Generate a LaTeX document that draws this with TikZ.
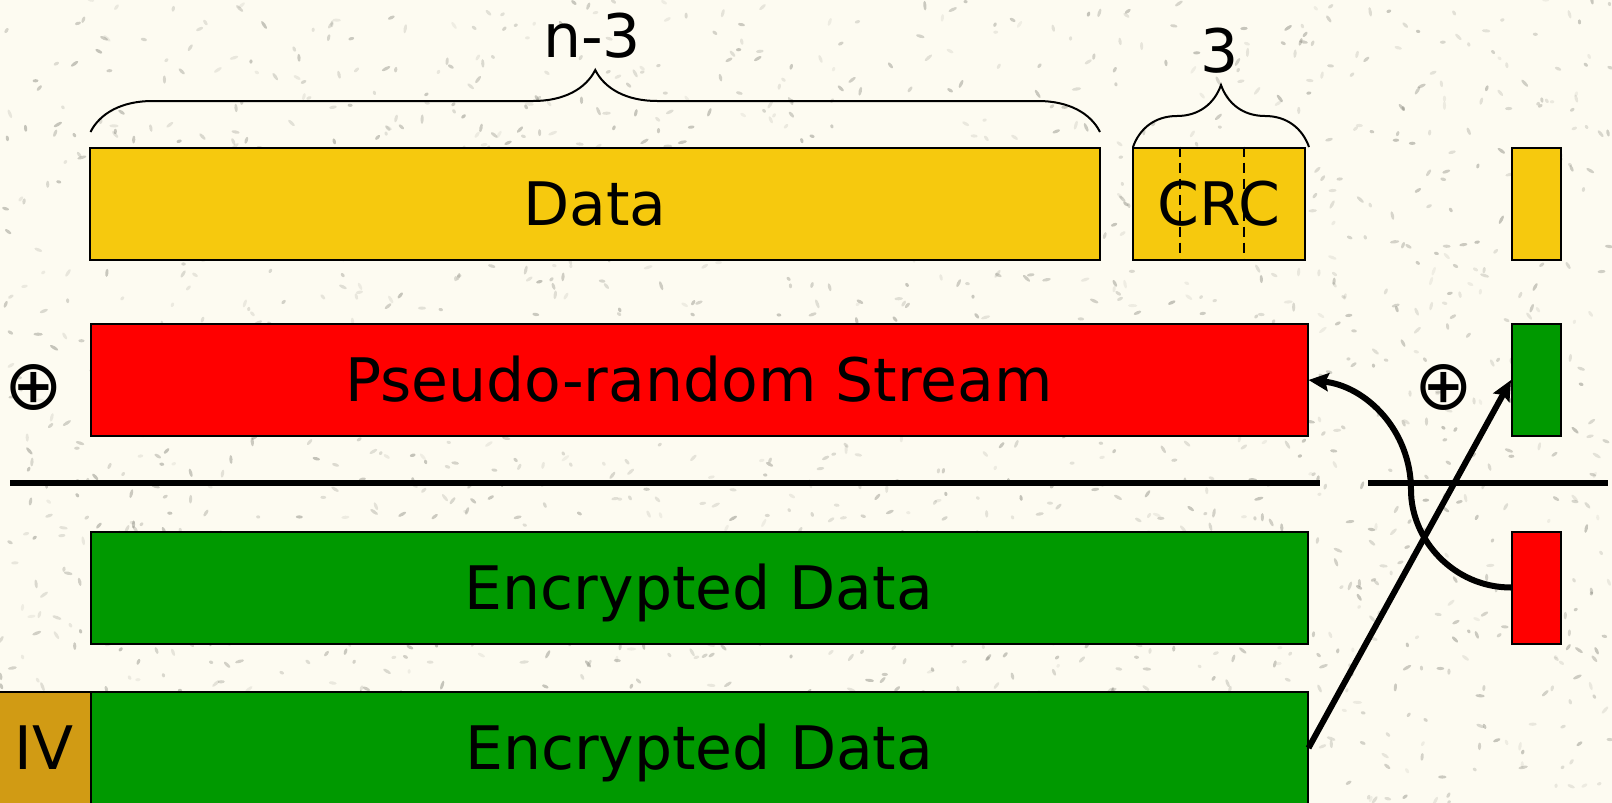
\documentclass[tikz,border=0pt]{standalone}
\usepackage{fontspec}
\setmainfont{DejaVu Sans}
\usetikzlibrary{arrows.meta,decorations.pathreplacing,calc}
\definecolor{paper}{HTML}{FDFBF1}
\definecolor{speck}{HTML}{7E7E74}
\definecolor{datayellow}{HTML}{F6C90E}
\definecolor{streamred}{HTML}{FF0000}
\definecolor{cipher}{HTML}{009900}
\definecolor{ivgold}{HTML}{D19B14}
\begin{document}
\begin{tikzpicture}[x=0.5pt,y=-0.5pt,
  field/.style={draw=black, line width=1pt, inner sep=0pt, minimum height=56pt,
    text height=21.5pt, text depth=0pt, font=\fontsize{30}{36}\selectfont},
  label/.style={inner sep=0pt, text height=21.5pt, text depth=0pt, font=\fontsize{30}{36}\selectfont},
  xorsign/.style={inner sep=0pt, font=\fontsize{35}{40}\selectfont},
  rule/.style={line width=2.6pt},
  bracket/.style={line width=1pt, decorate, decoration={brace, amplitude=31pt}},
  flow/.style={line width=3pt, -{Stealth[length=10pt,width=9pt,inset=1.5pt]}}]

% paper with a light granite speckle
\fill[paper] (0,0) rectangle (1612,803);
\useasboundingbox (0,0) rectangle (1612,803);
\pgfmathsetseed{4711}
\foreach \i in {1,...,2000}{
  \pgfmathsetmacro\px{rnd*1612}
  \pgfmathsetmacro\py{rnd*803}
  \pgfmathsetmacro\ang{rnd*180}
  \pgfmathsetmacro\op{0.10+0.35*rnd}
  \pgfmathsetmacro\sz{1+1.4*rnd}
  \fill[speck, opacity=\op, rotate around={\ang:(\px,\py)}] (\px,\py) ellipse (\sz pt and 0.8pt);
}

% plaintext frame
\node[field, fill=datayellow, minimum width=505pt] (data) at (595,203.5) {Data};
\node[field, fill=datayellow, minimum width=86pt] (crc) at (1219,203.5) {CRC};
\draw[dashed, line width=1pt, dash pattern=on 5pt off 3pt] ($(crc.north west)+(48,0)$) -- ($(crc.south west)+(48,0)$);
\draw[dashed, line width=1pt, dash pattern=on 5pt off 3pt] ($(crc.north west)+(112,0)$) -- ($(crc.south west)+(112,0)$);
\node[field, fill=datayellow, minimum width=24.5pt] (ys) at (1536.5,203.5) {};

% size braces
\coordinate (bl) at (90.5,132);
\coordinate (br) at (1100,132);
\draw[bracket] (bl) -- (br);
\node[label] (nlab) at (592,36) {n-3};
\coordinate (cl) at (1133,147);
\coordinate (cr) at (1309,147);
\draw[bracket] (cl) -- (cr);
\node[label] (clab) at (1220,51) {3};

% key stream
\node[xorsign] (x1) at (34,388) {⊕};
\node[field, fill=streamred, minimum width=608.5pt] (prs) at (699,380) {Pseudo-random Stream};
\node[xorsign] (x2) at (1444,388) {⊕};
\node[field, fill=cipher, minimum width=24.5pt] (gs) at (1536.5,380) {};

% result rules
\coordinate (la) at (10,483);
\coordinate (lb) at (1320,483);
\coordinate (ra) at (1368,483);
\coordinate (rb) at (1608,483);
\draw[rule] (la) -- (lb);
\draw[rule] (ra) -- (rb);

% ciphertext
\node[field, fill=cipher, minimum width=608.5pt] (enc) at (699,587.5) {Encrypted Data};
\node[field, fill=streamred, minimum width=24.5pt] (rs) at (1536.5,587.5) {};
\node[field, fill=ivgold, minimum width=47pt] (iv) at (44,748) {IV};
\node[field, fill=cipher, minimum width=608.25pt] (enc2) at (699.25,748) {Encrypted Data};

% swapped blocks
\coordinate (bend) at (1411,490);
\draw[flow] (rs.west) .. controls +(-57,0) and +(0,50) .. (bend)
            .. controls +(0,-60) and +(57,6) .. (prs.east);
\draw[flow] (enc2.east) -- (gs.west);
\end{tikzpicture}
\end{document}
